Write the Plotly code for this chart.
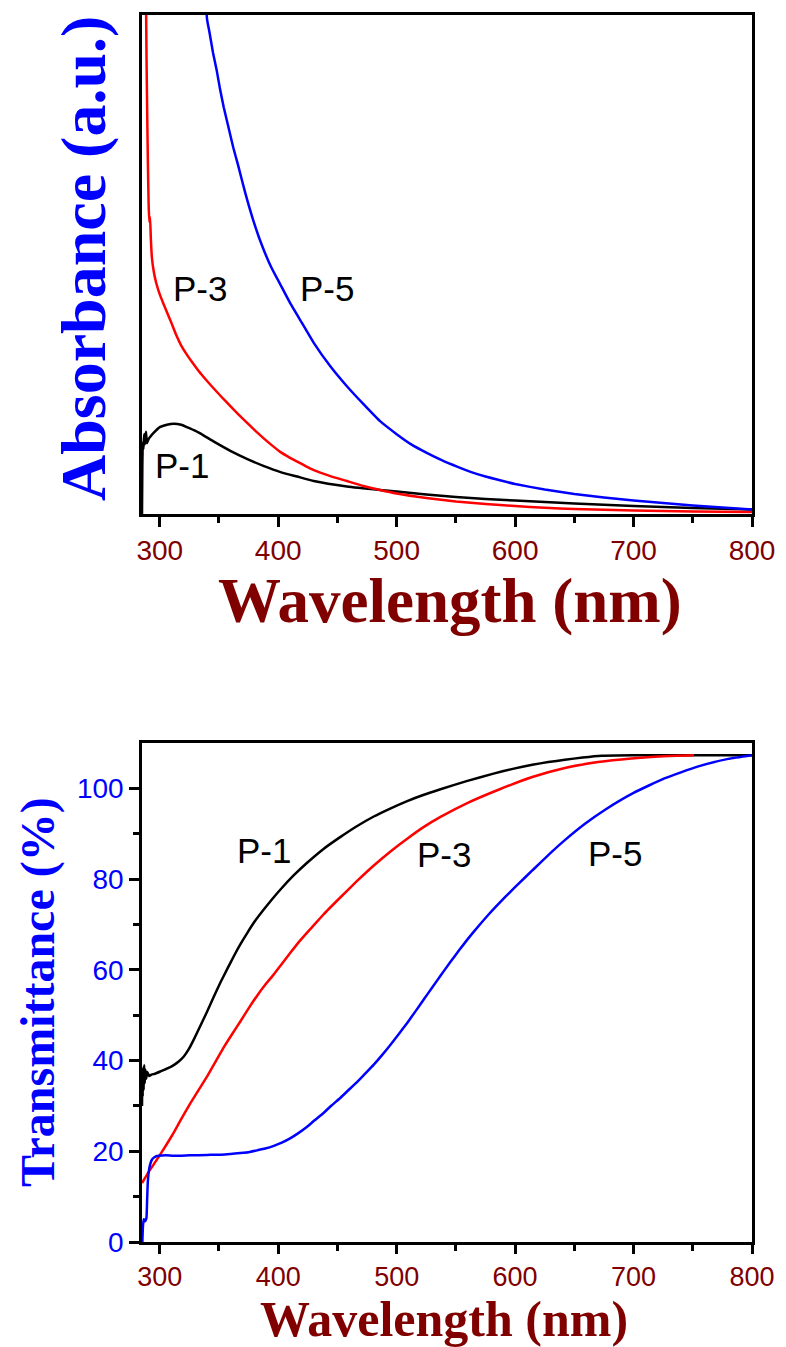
import plotly.graph_objects as go

# ---------------- data: absorbance (arbitrary units) ----------------
abs_wl_p1 = [285.0, 285.3, 285.7, 286.2, 286.8, 287.5, 288.3, 289.2, 290.5, 292, 295, 300, 306, 312, 318,
             325, 333, 345, 360, 374, 388, 402, 416, 430, 458, 486, 500, 525, 550, 575, 600, 650, 700, 750, 800]
abs_p1 = [0, 10, 14.5, 13.0, 16.0, 14.0, 16.5, 14.2, 15.0, 15.5, 16.3, 17.4, 17.9, 18.1, 17.9,
          17.2, 16.3, 14.6, 12.6, 11.0, 9.6, 8.4, 7.5, 6.6, 5.5, 4.8, 4.5, 3.9, 3.4, 3.0, 2.7, 2.1, 1.6, 1.2, 0.9]

abs_wl_p3 = [288.3, 288.8, 289.4, 290.0, 290.6, 291.2, 291.8, 292.5, 293.4, 295, 297, 300, 303, 306, 310,
             314, 318, 323, 328, 333, 339, 345, 352, 360, 367, 374, 381, 388, 395, 402, 409, 416, 423, 430,
             444, 458, 472, 486, 500, 525, 550, 575, 600, 625, 650, 700, 750, 800]
abs_p3 = [105, 92, 80, 70, 62, 58.5, 59.5, 55, 51.3, 48.5, 46.3, 44.0, 42.2, 40.5, 38.2,
          35.8, 33.8, 31.9, 30.2, 28.6, 26.9, 25.3, 23.5, 21.5, 19.8, 18.2, 16.6, 15.1, 13.7, 12.4, 11.4, 10.5, 9.6, 8.8,
          7.6, 6.6, 5.6, 4.8, 4.1, 3.2, 2.5, 2.0, 1.6, 1.25, 1.0, 0.7, 0.5, 0.4]

abs_wl_p5 = [338.0, 340, 342, 345, 348, 351, 354, 358, 362, 366, 372, 379, 386, 394, 402, 410, 420, 430,
             444, 458, 472, 486, 500, 512, 525, 538, 551, 563, 575, 588, 600, 625, 650, 675, 700, 725, 750, 775, 800]
abs_p5 = [105, 99, 96.5, 92.4, 89, 85, 81.5, 77.5, 73.5, 70.0, 64.5, 58.8, 54.0, 49.5, 45.9, 42.3, 38.3, 34.3,
          29.6, 25.6, 22.0, 18.6, 16.0, 14.0, 12.3, 10.8, 9.5, 8.4, 7.5, 6.7, 6.0, 4.9, 4.0, 3.3, 2.7, 2.2, 1.7, 1.3, 0.9]

# ---------------- data: transmittance (%) ----------------
tr_wl_p1 = [285.0, 285.3, 285.6, 286.0, 286.4, 286.8, 287.3, 287.8, 288.5, 289.5, 291, 293, 296, 300.6, 306,
            311.8, 316, 320.3, 324.5, 328.7, 334, 340, 345.5, 351.2, 357, 362.5, 368, 373.8, 380.5, 387.8,
            395, 401.9, 413, 424.4, 438, 452.6, 466, 480.7, 495, 508.9, 523, 537, 559, 581, 598, 614.5,
            628, 642, 657, 673, 700, 750, 800]
tr_p1 = [30, 36, 32, 38.5, 33.5, 39, 35, 38, 36, 37.5, 36.6, 36.9, 37.1, 37.6, 38.2,
         39.0, 39.8, 40.9, 42.5, 44.6, 47.5, 50.8, 54.0, 57.2, 60.2, 63.0, 65.6, 68.1, 70.8, 73.3,
         75.6, 77.7, 80.8, 83.6, 86.6, 89.3, 91.6, 93.8, 95.6, 97.2, 98.6, 99.8, 101.6, 103.2, 104.3, 105.2,
         105.8, 106.3, 106.8, 107.2, 107.3, 107.3, 107.3]

tr_wl_p3 = [285.0, 290, 297.7, 304.8, 311.8, 318.8, 325.9, 333, 340, 347, 354, 361, 368, 375, 382.2, 389,
            396.3, 403, 410.4, 417, 424.4, 438.5, 452.6, 466.6, 480.7, 494.8, 508.9, 523, 537, 560, 587,
            614.5, 642, 670, 698, 725, 751]
tr_p3 = [13.0, 15.2, 18.2, 21.1, 24.1, 27.4, 30.6, 33.6, 36.5, 39.7, 42.9, 45.8, 48.6, 51.5, 54.3, 56.7,
         59.0, 61.3, 63.8, 66.0, 68.2, 72.3, 76.0, 79.6, 83.0, 86.1, 88.9, 91.5, 93.7, 96.8, 99.8,
         102.5, 104.5, 105.8, 106.6, 107.1, 107.3]

tr_wl_p5 = [285.3, 285.8, 286.5, 287.5, 288.7, 289.3, 289.9, 291, 292.2, 293.5, 295, 297, 299.2, 305, 311.8,
            325, 340, 355, 368, 375, 382.2, 389, 396.3, 403, 410.4, 417, 424.4, 431, 438.5, 445, 452.6, 459,
            466.7, 473, 480.7, 488, 494.8, 502, 508.9, 516, 523, 530, 537, 545, 553, 561, 569, 578, 587, 596,
            603, 614.5, 628, 642, 659, 676, 700, 726, 754, 780, 800]
tr_p5 = [0, 3.5, 5.0, 4.6, 5.2, 9.0, 13.2, 16.0, 17.4, 18.2, 18.6, 18.9, 19.0, 19.1, 19.0,
         19.1, 19.2, 19.3, 19.6, 19.8, 20.2, 20.6, 21.2, 21.9, 22.9, 24.0, 25.4, 26.9, 28.5, 30.1, 31.8, 33.4,
         35.3, 37.0, 39.1, 41.3, 43.5, 45.9, 48.3, 50.9, 53.5, 56.1, 58.7, 61.6, 64.4, 67.1, 69.6, 72.3, 74.8, 77.2,
         79.0, 81.9, 85.3, 88.6, 92.2, 95.3, 99.0, 102.2, 104.8, 106.5, 107.3]

x_tick_vals = [300, 400, 500, 600, 700, 800]
x_tick_text = ["300", "400", "500", "600", "700", "800"]
t_tick_vals = [0, 20, 40, 60, 80, 100]
t_tick_text = ["0", "20", "40", "60", "80", "100"]

series_names = ["P-1", "P-3", "P-5"]
series_colors = ["#000000", "#ff0000", "#0000ff"]

# ---------------- layout geometry ----------------
W, H = 786, 1347
ML, MR, MT, MB = 142, 34, 15, 105
PH = H - MT - MB
PW = W - ML - MR


def py(pix):
    return 1 - (pix - MT) / PH


def px(pix):
    return (pix - ML) / PW


MAROON = "#800000"
BLUE = "#0000ff"
SANS = "Liberation Sans, Arial, sans-serif"
SERIF = "Liberation Serif, Times New Roman, serif"

fig = go.Figure()

abs_data = [(abs_wl_p1, abs_p1), (abs_wl_p3, abs_p3), (abs_wl_p5, abs_p5)]
tr_data = [(tr_wl_p1, tr_p1), (tr_wl_p3, tr_p3), (tr_wl_p5, tr_p5)]

for (xs, ys), name, col in zip(abs_data, series_names, series_colors):
    fig.add_trace(go.Scatter(x=xs, y=ys, mode="lines", name=name, showlegend=False,
                             line=dict(color=col, width=2.5, shape="spline", smoothing=0.4),
                             xaxis="x", yaxis="y"))
for (xs, ys), name, col in zip(tr_data, series_names, series_colors):
    fig.add_trace(go.Scatter(x=xs, y=ys, mode="lines", name=name, showlegend=False,
                             line=dict(color=col, width=2.5, shape="spline", smoothing=0.4),
                             xaxis="x2", yaxis="y2"))

top_dom = [py(514), 1.0]
bot_dom = [0.0, py(743)]


def x_axis(anchor, fsize, tlen):
    return dict(domain=[0, 1], anchor=anchor, range=[285, 800], showline=True, linecolor="black",
                linewidth=2.5, mirror=True, ticks="outside", ticklen=tlen, tickwidth=2.5, tickcolor="black",
                tickvals=x_tick_vals, ticktext=x_tick_text,
                tickfont=dict(family=SANS, size=fsize, color=MAROON),
                minor=dict(ticks="outside", ticklen=6, tickwidth=2.5, tickcolor="black",
                           tickvals=[350, 450, 550, 650, 750]),
                showgrid=False, zeroline=False)


fig.update_layout(
    width=W, height=H,
    margin=dict(l=ML, r=MR, t=MT, b=MB),
    paper_bgcolor="white", plot_bgcolor="white",
    showlegend=False,
    xaxis=x_axis("y", 28, 10),
    yaxis=dict(domain=top_dom, anchor="x", range=[0, 100], showline=True, linecolor="black",
               linewidth=2.5, mirror=True, ticks="", showticklabels=False, showgrid=False, zeroline=False),
    xaxis2=x_axis("y2", 27, 9),
    yaxis2=dict(domain=bot_dom, anchor="x2", range=[0, 110], showline=True, linecolor="black",
                linewidth=2.5, mirror=True, ticks="outside", ticklen=10, tickwidth=2.5, tickcolor="black",
                tickvals=t_tick_vals, ticktext=t_tick_text,
                tickfont=dict(family=SANS, size=28, color=BLUE),
                minor=dict(ticks="outside", ticklen=6, tickwidth=2.5, tickcolor="black",
                           tickvals=[10, 30, 50, 70, 90]),
                showgrid=False, zeroline=False),
)

# series labels
top_labels = [("P-3", 333.7, 45.1), ("P-5", 441.6, 45.1), ("P-1", 318.6, 9.8)]
bot_labels = [("P-1", 387.8, 86.2), ("P-3", 539.6, 85.4), ("P-5", 684.0, 85.7)]
for txt, xv, yv in top_labels:
    fig.add_annotation(x=xv, y=yv, xref="x", yref="y", text=txt, showarrow=False,
                       font=dict(family=SANS, size=35, color="black"))
for txt, xv, yv in bot_labels:
    fig.add_annotation(x=xv, y=yv, xref="x2", yref="y2", text=txt, showarrow=False,
                       font=dict(family=SANS, size=35, color="black"))

# axis titles
fig.add_annotation(x=px(450), y=py(601), xref="paper", yref="paper", text="<b>Wavelength (nm)</b>",
                   showarrow=False, xanchor="center", yanchor="middle",
                   font=dict(family=SERIF, size=63, color=MAROON))
fig.add_annotation(x=px(444), y=py(1319), xref="paper", yref="paper", text="<b>Wavelength (nm)</b>",
                   showarrow=False, xanchor="center", yanchor="middle", borderpad=0,
                   font=dict(family=SERIF, size=50, color=MAROON))
fig.add_annotation(x=px(83), y=py(259), xref="paper", yref="paper", text="<b>Absorbance (a.u.)</b>",
                   showarrow=False, xanchor="center", yanchor="middle", textangle=-90,
                   font=dict(family=SERIF, size=64, color=BLUE))
fig.add_annotation(x=px(38), y=py(992), xref="paper", yref="paper", text="<b>Transmittance (%)</b>",
                   showarrow=False, xanchor="center", yanchor="middle", textangle=-90,
                   font=dict(family=SERIF, size=48, color=BLUE))

fig.write_html("out.html",
               config={"displayModeBar": False},
               post_script="document.body.style.margin='0px';"
                           "document.documentElement.style.overflow='hidden';"
                           "document.body.style.overflow='hidden';")
